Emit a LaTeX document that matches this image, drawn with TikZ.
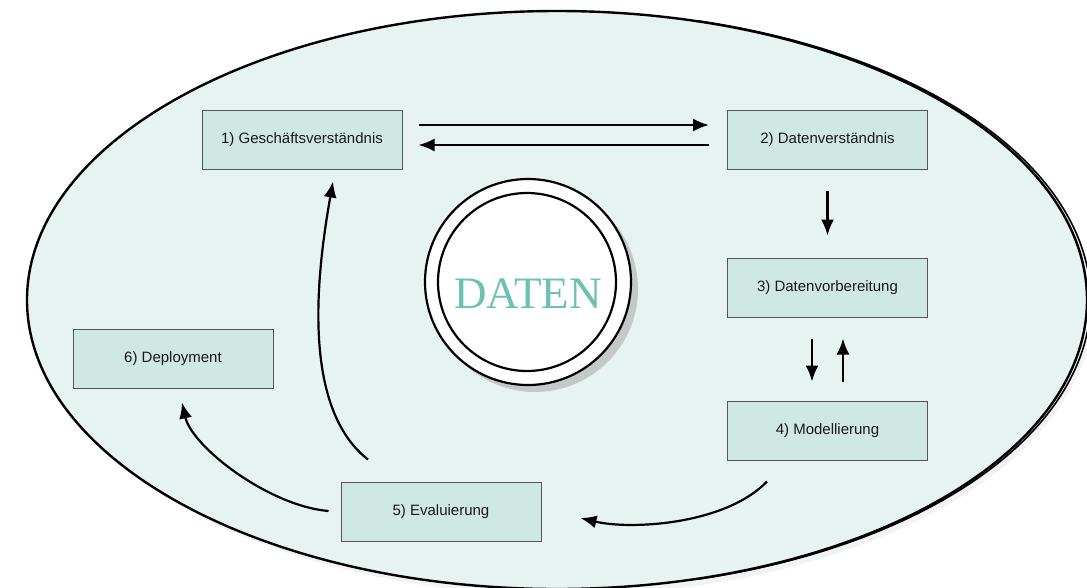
\documentclass[tikz,border=0pt]{standalone}
\usepackage{fontspec}
\setmainfont{Liberation Sans}
\newfontfamily\datenfont{Liberation Serif}
\usetikzlibrary{arrows.meta}
\usetikzlibrary{calc}
\definecolor{bgmint}{RGB}{230,243,240}
\definecolor{boxmint}{RGB}{207,232,226}
\definecolor{boxline}{RGB}{85,85,85}
\definecolor{textgrey}{RGB}{25,25,25}
\definecolor{datenteal}{RGB}{110,192,178}
\definecolor{circshade}{RGB}{196,201,200}
\definecolor{ovalshade}{RGB}{242,243,243}
\pgfdeclarelayer{backlayer}
\pgfsetlayers{backlayer,main}
\tikzstyle{phase}=[draw=boxline, fill=boxmint, line width=1pt, minimum width=200pt, minimum height=59pt, inner sep=0pt, text=textgrey, font=\fontsize{15}{18}\selectfont]
\tikzstyle{ring}=[shape=circle, draw, line width=2.2pt, inner sep=0pt]
\tikzset{flow/.style={line width=2.2pt, -{Latex[length=16pt,width=13pt]}}}

\begin{document}
\begin{tikzpicture}[x=1pt,y=-1pt]
	\useasboundingbox (0,0) rectangle (1087,587);
	\begin{pgfonlayer}{backlayer}
		\fill[ovalshade] (563,306) ellipse [x radius=530, y radius=289];
		\draw[line width=2.4pt, fill=bgmint] (557,300) ellipse [x radius=530, y radius=289];
		% sketchy second stroke on the right
		\draw[line width=1.6pt] (560.5,300) ++(-75:530 and 289) arc [start angle=-75, end angle=75, x radius=530, y radius=289];
		\fill[circshade] (535,289) circle [radius=103];
	\end{pgfonlayer}
	\node [style=phase] (1) at (302,139.5) {1) Geschäftsverständnis};
	\node [style=phase] (2) at (827.5,139.5) {2) Datenverständnis};
	\node [style=phase] (3) at (827.5,287.5) {3) Datenvorbereitung};
	\node [style=phase] (4) at (827.5,430.5) {4) Modellierung};
	\node [style=phase] (5) at (441,511.5) {5) Evaluierung};
	\node [style=phase] (6) at (173,358.5) {6) Deployment};
	\node [style=ring, fill=white, minimum size=206pt] (7) at (528,282) {};
	\node [style=ring, minimum size=178pt] (8) at (527,282) {};
	\node [text=datenteal, font=\datenfont\fontsize{45}{45}\selectfont] (9) at (528,294) {DATEN};

	\draw[flow, shorten <=16pt, shorten >=18pt] ([yshift=14.5pt]1.east) -- ([yshift=14.5pt]2.west);
	\draw[flow, shorten <=18pt, shorten >=16pt] ([yshift=-5.5pt]2.west) -- ([yshift=-5.5pt]1.east);
	\draw[flow, shorten <=21pt, shorten >=22pt] (2.south) -- (3.north);
	\draw[flow, shorten <=21pt, shorten >=19pt] ([xshift=-15.5pt]3.south) -- ([xshift=-15.5pt]4.north);
	\draw[flow, shorten <=19pt, shorten >=21pt] ([xshift=15.5pt]4.north) -- ([xshift=15.5pt]3.south);
	\draw[flow] ([shift={(-60.5,21)}]4.south) .. controls (725,525) and (630,530) .. ([shift={(39,6.5)}]5.east);
	\draw[flow] ([shift={(-12,-0.5)}]5.west) .. controls (269,506) and (192,447) .. ([shift={(9,14)}]6.south);
	\draw[flow] ([shift={(-73,-22)}]5.north) .. controls (298,405) and (319,261) .. ([shift={(31,12)}]1.south);
\end{tikzpicture}
\end{document}
